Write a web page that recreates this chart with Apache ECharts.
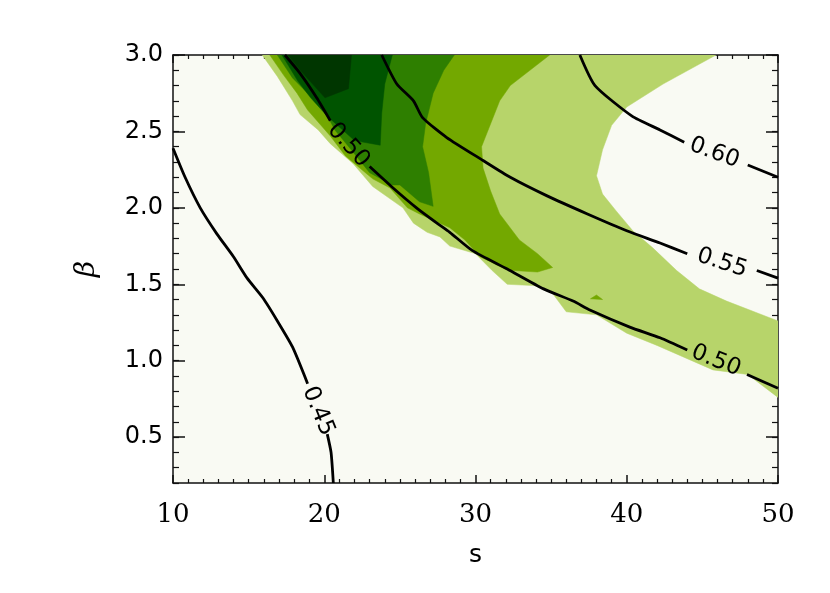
<!DOCTYPE html>
<html>
<head>
<meta charset="utf-8">
<script src="https://cdn.jsdelivr.net/npm/echarts@6/dist/echarts.min.js"></script>
<style>
  html, body { margin: 0; background: #fff; }
  #chart { width: 830px; height: 593px; }
</style>
</head>
<body>
<div id="chart"></div>
<script>
// filled contour bands, outermost first, vertices as [s, beta]
const band1 = [[15.9,3.0],[45.9,3.0],[42.4,2.81],[40.0,2.66],[39.0,2.54],[38.4,2.38],[38.0,2.21],[38.4,2.09],[39.3,1.98],[40.4,1.85],[41.7,1.74],[43.3,1.59],[44.8,1.47],[46.6,1.39],[50,1.26],
  [50,0.76],[48.0,0.91],[45.7,0.94],[42.0,1.10],[40.0,1.18],[38.0,1.30],[36.0,1.32],[35.1,1.44],[34.1,1.49],[32.1,1.50],[31.1,1.59],[30.0,1.70],[28.3,1.75],[27.65,1.81],[26.8,1.84],[25.9,1.90],[25.2,2.00],[23.2,2.14],[21.9,2.29],[20.4,2.42],[19.6,2.51],[18.4,2.61],[17.9,2.70],[16.9,2.86]];
const band2 = [[16.4,3.0],[34.9,3.0],[32.3,2.80],[31.6,2.70],[30.4,2.40],[30.5,2.26],[31.0,2.11],[31.6,1.96],[32.9,1.79],[34.1,1.70],[35.1,1.61],
  [34.1,1.58],[32.5,1.59],[31.95,1.60],[30.3,1.68],[29.3,1.79],[28.3,1.87],[27.65,1.90],[26.3,1.96],[25.5,2.00],[24.35,2.13],[23.2,2.19],[21.4,2.34],[20.4,2.47],[18.9,2.64],[18.2,2.75],[17.3,2.87]];
const band2b = [[37.6,1.405],[38.0,1.43],[38.4,1.40]];
const band3 = [[16.9,3.0],[28.6,3.0],[27.9,2.90],[27.2,2.75],[26.7,2.55],[26.5,2.40],[26.9,2.23],[27.2,2.01],
  [26.3,2.04],[25.0,2.15],[24.5,2.15],[23.0,2.23],[21.7,2.39],[20.7,2.51],[19.9,2.66],[18.9,2.75],[17.9,2.85]];
const band4 = [[17.2,3.0],[24.5,3.0],[24.0,2.81],[23.8,2.62],[23.7,2.41],[22.0,2.44],[20.2,2.60],[19.1,2.72],[18.25,2.83],[17.45,2.96]];
const band5 = [[17.6,3.0],[21.8,3.0],[21.6,2.78],[20.05,2.72],[18.5,2.89]];

// contour lines, split where their labels sit
const c045a = [[10,2.39],[10.8,2.20],[11.8,2.00],[12.9,1.83],[14.0,1.68],[14.9,1.54],[15.95,1.41],[16.9,1.26],[17.9,1.09],[18.9,0.85]];
const c045b = [[20.2,0.52],[20.45,0.40],[20.6,0.20]];
const c050a = [[17.4,3.0],[18.4,2.88],[19.5,2.72],[20.4,2.57]];
const c050b = [[23.0,2.27],[24.55,2.13],[26.1,2.00],[27.45,1.90],[28.3,1.84],[29.8,1.72],[32.1,1.60],[34.5,1.47],[36.45,1.39],[37.6,1.33],[40.2,1.22],[42.2,1.15],[44.0,1.07]];
const c050c = [[47.95,0.91],[50,0.82]];
const c055a = [[23.8,3.0],[24.8,2.81],[25.9,2.70],[26.5,2.59],[28.1,2.46],[30.5,2.31],[32.3,2.20],[34.7,2.08],[37.4,1.96],[40.0,1.85],[42.2,1.77],[44.0,1.70]];
const c055b = [[48.6,1.59],[50,1.54]];
const c060a = [[36.9,3.0],[37.9,2.80],[40.35,2.60],[42.2,2.51],[43.8,2.43]];
const c060b = [[48.0,2.28],[50,2.20]];

const labelText = ['0.45', '0.50', '0.50', '0.55', '0.60'];
const labelAt = [[19.6,0.67],[21.6,2.41],[45.9,1.00],[46.3,1.64],[45.8,2.36]];
const labelAngle = [68, 48, 22, 18, 20];

const xTicks = [10, 20, 30, 40, 50];
const yMajor = [0.5, 1.0, 1.5, 2.0, 2.5, 3.0];
const yMinor = [0.2,0.3,0.4,0.5,0.6,0.7,0.8,0.9,1.0,1.1,1.2,1.3,1.4,1.5,1.6,1.7,1.8,1.9,2.0,2.1,2.2,2.3,2.4,2.5,2.6,2.7,2.8,2.9,3.0];

const bandColors = ['#b7d46a', '#73a800', '#73a800', '#2e7f00', '#005400', '#003600'];
const axisColor = '#111';

const chart = echarts.init(document.getElementById('chart'));

function bandSeries(poly, color) {
  return {
    type: 'custom',
    clip: true,
    silent: true,
    data: poly,
    renderItem: function (params, api) {
      if (params.dataIndex !== 0) return null;
      return {
        type: 'polygon',
        shape: { points: poly.map(p => api.coord(p)) },
        style: { fill: color, stroke: color, lineWidth: 0.5 }
      };
    }
  };
}

function lineSeries(pts) {
  return {
    type: 'line',
    data: pts,
    showSymbol: false,
    silent: true,
    clip: true,
    smooth: 0.2,
    lineStyle: { color: '#000', width: 2.8 },
    z: 5
  };
}

const xBase = {
  type: 'value', min: 10, max: 50, interval: 10,
  axisLine: { show: true, onZero: false, lineStyle: { color: axisColor, width: 1.5 } },
  axisTick: { inside: true, length: 8, lineStyle: { color: axisColor, width: 1.5 } },
  minorTick: { show: true, splitNumber: 10, length: 4, lineStyle: { color: axisColor, width: 1.2 } },
  splitLine: { show: false }
};
const yBase = {
  type: 'value', min: 0.2, max: 3.0,
  axisLine: { show: true, onZero: false, lineStyle: { color: axisColor, width: 1.5 } },
  splitLine: { show: false }
};

chart.setOption({
  animation: false,
  grid: { left: 173, top: 55, right: 52, bottom: 110, show: true, backgroundColor: '#f9faf3', borderWidth: 0 },
  xAxis: [
    Object.assign({}, xBase, {
      position: 'bottom',
      axisLabel: { fontFamily: 'DejaVu Serif', fontSize: 26, color: '#000', margin: 19, formatter: v => xTicks.includes(v) ? String(v) : '' },
      name: 's', nameLocation: 'middle', nameGap: 60,
      nameTextStyle: { fontFamily: 'DejaVu Sans', fontSize: 25, color: '#000' }
    }),
    Object.assign({}, xBase, { position: 'top', axisLabel: { show: false } })
  ],
  yAxis: [
    Object.assign({}, yBase, {
      position: 'left',
      axisTick: { inside: true, length: 12, customValues: yMajor, lineStyle: { color: axisColor, width: 1.5 } },
      axisLabel: { customValues: yMajor, formatter: v => v.toFixed(1), fontFamily: 'DejaVu Sans', fontSize: 24, color: '#000', margin: 10 },
      name: 'β', nameLocation: 'middle', nameGap: 72, nameRotate: 90,
      nameTextStyle: { fontFamily: 'DejaVu Serif', fontStyle: 'italic', fontSize: 28, color: '#000' }
    }),
    Object.assign({}, yBase, {
      position: 'left',
      axisLine: { show: false },
      axisTick: { inside: true, length: 6, customValues: yMinor, lineStyle: { color: axisColor, width: 1.2 } },
      axisLabel: { show: false }
    }),
    Object.assign({}, yBase, {
      position: 'right',
      axisTick: { inside: true, length: 12, customValues: yMajor, lineStyle: { color: axisColor, width: 1.5 } },
      axisLabel: { show: false }
    }),
    Object.assign({}, yBase, {
      position: 'right',
      axisLine: { show: false },
      axisTick: { inside: true, length: 6, customValues: yMinor, lineStyle: { color: axisColor, width: 1.2 } },
      axisLabel: { show: false }
    })
  ],
  series: [
    bandSeries(band1, bandColors[0]),
    bandSeries(band2, bandColors[1]),
    bandSeries(band2b, bandColors[2]),
    bandSeries(band3, bandColors[3]),
    bandSeries(band4, bandColors[4]),
    bandSeries(band5, bandColors[5]),
    lineSeries(c045a), lineSeries(c045b),
    lineSeries(c050a), lineSeries(c050b), lineSeries(c050c),
    lineSeries(c055a), lineSeries(c055b),
    lineSeries(c060a), lineSeries(c060b),
    {
      type: 'custom',
      silent: true,
      z: 6,
      data: labelAt,
      renderItem: function (params, api) {
        const p = api.coord(labelAt[params.dataIndex]);
        return {
          type: 'text',
          x: p[0], y: p[1],
          rotation: -labelAngle[params.dataIndex] * Math.PI / 180,
          style: {
            text: labelText[params.dataIndex],
            fontFamily: 'DejaVu Sans', fontSize: 23, fill: '#000',
            align: 'center', verticalAlign: 'middle'
          }
        };
      }
    }
  ]
});
</script>
</body>
</html>
